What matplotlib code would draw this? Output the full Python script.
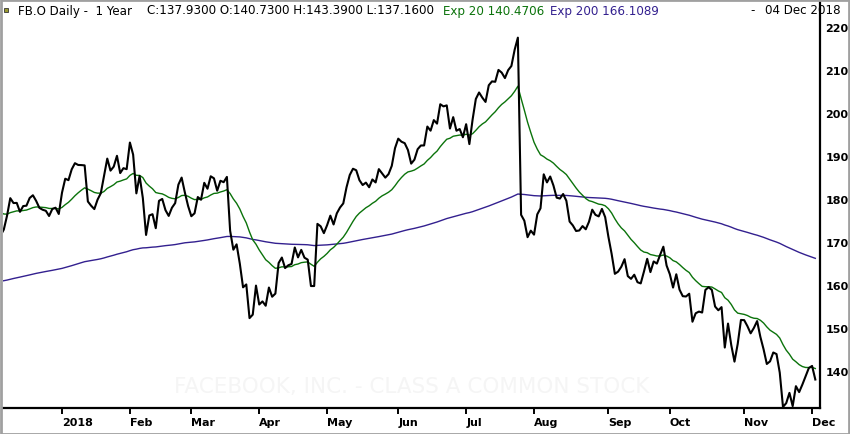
import numpy as np
import pandas as pd
import matplotlib
matplotlib.use('Agg')
import matplotlib.pyplot as plt
from matplotlib.patches import Rectangle

# daily closes, 04 Dec 2017 .. 04 Dec 2018
close_dec17 = [171.47, 172.83, 176.06, 180.14, 179.00, 179.04, 176.96, 178.30, 178.39, 180.18,
               180.82, 179.51, 177.89, 177.45, 177.20, 175.99, 177.62, 177.92, 176.46]
close_jan = [181.42, 184.67, 184.33, 186.85, 188.28, 187.87, 187.84, 187.77, 179.37, 178.39, 177.60,
             179.80, 181.29, 185.37, 189.35, 186.55, 187.48, 190.00, 185.98, 187.12, 186.89]
close_feb = [193.09, 190.28, 181.26, 185.31, 180.18, 171.58, 176.11, 176.41, 173.15, 179.52, 179.96,
             177.36, 176.01, 177.91, 178.99, 183.29, 184.93, 181.46, 178.32]
close_mar = [175.94, 176.62, 180.40, 179.78, 183.71, 182.34, 185.23, 184.76, 181.88, 184.19, 183.86,
             185.09, 172.56, 168.15, 169.39, 164.89, 159.39, 160.06, 152.22, 153.03, 159.79]
close_apr = [155.39, 156.11, 155.10, 159.34, 157.20, 157.93, 165.04, 166.32, 163.87, 164.52, 164.83,
             168.66, 166.36, 168.10, 166.28, 165.84, 159.69, 159.69, 174.16, 173.59, 172.00]
close_may = [173.86, 176.07, 174.02, 176.61, 177.97, 178.92, 182.66, 185.53, 186.99, 186.64, 184.32,
             183.20, 183.76, 182.68, 184.49, 183.80, 186.90, 185.93, 184.92, 185.74, 187.67, 191.78]
close_jun = [193.99, 193.28, 192.94, 191.34, 188.18, 189.10, 191.54, 192.40, 192.41, 196.81, 195.85,
             198.31, 197.49, 202.00, 201.50, 201.74, 196.35, 199.00, 195.84, 196.23, 194.32]
close_jul = [197.36, 192.73, 198.45, 203.23, 204.74, 203.54, 202.54, 206.42, 207.32, 207.23, 209.99,
             209.36, 208.09, 209.94, 210.91, 214.67, 217.50, 176.26, 174.89, 171.06, 172.58]
close_aug = [171.65, 176.37, 177.78, 185.69, 183.81, 185.18, 183.09, 180.26, 180.05, 181.11, 179.53,
             174.70, 173.80, 172.50, 172.62, 173.64, 172.90, 174.65, 177.46, 176.26, 175.90, 177.64,
             175.73]
close_sep = [171.16, 167.18, 162.53, 163.04, 164.18, 165.94, 162.00, 161.36, 162.32, 160.58, 160.30,
             163.06, 166.02, 162.93, 165.41, 164.91, 166.95, 168.84, 164.46]
close_oct = [162.44, 159.33, 162.43, 158.85, 157.33, 157.25, 157.90, 151.38, 153.35, 153.74, 153.52,
             158.78, 159.42, 158.78, 154.92, 154.05, 154.78, 145.37, 150.95, 145.96, 142.09, 146.22,
             151.79]
close_nov = [151.75, 150.35, 148.68, 149.94, 151.53, 147.87, 144.96, 141.55, 142.16, 144.22, 143.85,
             139.53, 131.55, 132.43, 134.82, 131.73, 136.38, 135.00, 136.76, 138.68, 140.61]
close_dec18 = [141.09, 137.93]

# exchange holidays inside the window
holidays = ['2017-12-25', '2018-01-01', '2018-01-15', '2018-02-19', '2018-03-30',
            '2018-05-28', '2018-07-04', '2018-09-03', '2018-11-22']

# EMA levels at the left edge
ema20_start = 177.4
ema200_start = 160.7

month_labels = ['2018', 'Feb', 'Mar', 'Apr', 'May', 'Jun', 'Jul', 'Aug', 'Sep', 'Oct', 'Nov', 'Dec']
y_ticks = [140, 150, 160, 170, 180, 190, 200, 210, 220]

title_main = 'FB.O Daily -  1 Year'
title_ohlc = 'C:137.9300 O:140.7300 H:143.3900 L:137.1600'
title_ema20 = 'Exp 20 140.4706'
title_ema200 = 'Exp 200 166.1089'
title_date = '04 Dec 2018'
watermark = 'FACEBOOK, INC. - CLASS A COMMON STOCK'

close = (close_dec17 + close_jan + close_feb + close_mar + close_apr + close_may + close_jun
         + close_jul + close_aug + close_sep + close_oct + close_nov + close_dec18)
days = pd.bdate_range('2017-12-04', '2018-12-04', freq='C', holidays=holidays)
x = np.arange(len(days))

ema20 = pd.Series([ema20_start] + close).ewm(span=20, adjust=False).mean().iloc[1:].values
ema200 = pd.Series([ema200_start] + close).ewm(span=200, adjust=False).mean().iloc[1:].values

months = days.to_period('M')
month_starts = [i for i in range(1, len(days)) if months[i] != months[i - 1]]

W, H = 850, 435
fig = plt.figure(figsize=(W / 100, H / 100), dpi=100)
ax = fig.add_axes([3 / W, (H - 409) / H, (820 - 3) / W, (409 - 3) / H])

GREEN = '#0b730b'
PURPLE = '#33208f'

ax.text(0.5, 0.055, watermark, transform=ax.transAxes, ha='center', va='center',
        fontsize=15.5, color='#f5f5f5', zorder=0)

ax.plot(x, ema200, color=PURPLE, lw=1.0, zorder=2)
ax.plot(x, ema20, color=GREEN, lw=1.0, zorder=3)
ax.plot(x, close, color='black', lw=1.5, zorder=4)

ax.set_xlim(0.75, 253.45)
ax.set_ylim(131.3, 225.8)

for s in ['top', 'left']:
    ax.spines[s].set_visible(False)
for s in ['bottom', 'right']:
    ax.spines[s].set_linewidth(1.6)

ax.set_xticks(month_starts)
ax.set_xticklabels(month_labels, fontsize=8, fontweight='bold')
plt.setp(ax.get_xticklabels(), ha='left')
ax.tick_params(axis='x', direction='out', length=4.5, width=1.4, pad=2)

ax.yaxis.tick_right()
ax.set_yticks(y_ticks)
ax.set_yticklabels([str(v) for v in y_ticks], fontsize=8, fontweight='bold')
ax.tick_params(axis='y', length=0, pad=4)

ty = (H - 11) / H
fs = 8.6
fig.text(18 / W, ty, title_main, fontsize=fs, va='center', color='black')
fig.text(147 / W, ty, title_ohlc, fontsize=fs, va='center', color='black')
fig.text(443 / W, ty, title_ema20, fontsize=fs, va='center', color=GREEN)
fig.text(550 / W, ty, title_ema200, fontsize=fs, va='center', color=PURPLE)
fig.text(750 / W, ty, '-', fontsize=fs, va='center', color='black')
fig.text(765 / W, ty, title_date, fontsize=fs, va='center', color='black')

# small marker square by the title and the window frame
fig.patches.append(Rectangle((4 / W, (H - 13) / H), 4 / W, 4 / H, transform=fig.transFigure,
                             facecolor='#9a9a30', edgecolor='#333333', lw=0.6))
fig.patches.append(Rectangle((0.5 / W, 0.5 / H), (W - 1.5) / W, (H - 1.5) / H,
                             transform=fig.transFigure, fill=False, edgecolor='#a0a0a0', lw=2))

fig.savefig('out.png', dpi=100)
